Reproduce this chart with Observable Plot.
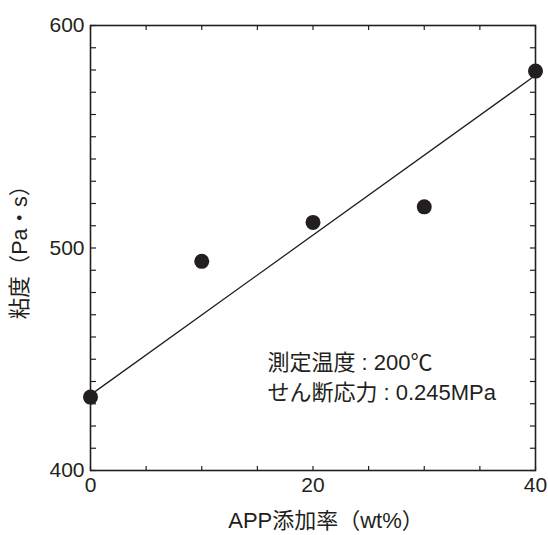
<!DOCTYPE html>
<html>
<head>
<meta charset="utf-8">
<script src="https://cdn.jsdelivr.net/npm/d3@7"></script>
<script src="https://cdn.jsdelivr.net/npm/@observablehq/plot@0.6"></script>
<style>
  html, body { margin: 0; padding: 0; background: #fff; }
  #chart svg { display: block; }
</style>
</head>
<body>
<div id="chart"></div>
<script>
// APP loading (wt%) and measured viscosity (Pa·s)
const appContent = [0, 10, 20, 30, 40];
const viscosity = [433, 494, 511.5, 518.5, 579.5];

// straight fitted line through the data
const fitX = [0, 40];
const fitY = [434, 577.6];

// axis ticks
const xMajorTicks = [0, 20, 40];
const xMinorTicks = [0, 5, 10, 15, 20, 25, 30, 35, 40];
const yMajorTicks = [400, 500, 600];
const yMinorTicks = [400, 410, 420, 430, 440, 450, 460, 470, 480, 490, 500, 510, 520, 530, 540, 550, 560, 570, 580, 590, 600];

// measurement conditions note
const noteLines = ["測定温度 : 200℃", "せん断応力 : 0.245MPa"];
const noteX = [15.9, 15.9];
const noteY = [448.5, 435];

const xLabel = "APP添加率（wt%）";
const yLabel = "粘度（Pa・s）";

const font = "'Liberation Sans', Arial, 'Noto Sans CJK JP', sans-serif";
const ink = "#231f20";

const points = appContent.map((x, i) => ({x, y: viscosity[i]}));
const fit = fitX.map((x, i) => ({x, y: fitY[i]}));
const notes = noteLines.map((t, i) => ({t, x: noteX[i], y: noteY[i]}));

const chart = Plot.plot({
  width: 548,
  height: 535,
  marginLeft: 90,
  marginRight: 13,
  marginTop: 25,
  marginBottom: 65,
  style: {fontFamily: font, color: ink, background: "#fff"},
  x: {domain: [0, 40]},
  y: {domain: [400, 600]},
  marks: [
    // inward ticks on all four sides
    Plot.axisY(yMinorTicks, {anchor: "left", tickSize: -6, text: null, label: null, stroke: ink, strokeWidth: 1.2}),
    Plot.axisY(yMinorTicks, {anchor: "right", tickSize: -6, text: null, label: null, stroke: ink, strokeWidth: 1.2}),
    Plot.axisX(xMinorTicks, {anchor: "bottom", tickSize: -4, text: null, label: null, stroke: ink, strokeWidth: 1.2}),
    Plot.axisX(xMinorTicks, {anchor: "top", tickSize: -4, text: null, label: null, stroke: ink, strokeWidth: 1.2}),
    // tick labels
    Plot.axisY(yMajorTicks, {anchor: "left", tickSize: 0, tickPadding: 6, fontSize: 21, fill: ink, label: null}),
    Plot.axisX(xMajorTicks, {anchor: "bottom", tickSize: 0, tickPadding: 7, fontSize: 21, fill: ink, label: null}),
    // axis titles
    Plot.text([xLabel], {frameAnchor: "bottom", textAnchor: "middle", lineAnchor: "middle", dx: 13, dy: 50, fontSize: 22, fill: ink}),
    Plot.text([yLabel], {frameAnchor: "left", textAnchor: "middle", lineAnchor: "middle", dx: -70, dy: -1, rotate: -90, fontSize: 21.5, fill: ink}),
    Plot.frame({stroke: ink, strokeWidth: 1.6}),
    Plot.line(fit, {x: "x", y: "y", stroke: ink, strokeWidth: 1.3}),
    Plot.dot(points, {x: "x", y: "y", r: 7.5, fill: ink, stroke: "none"}),
    Plot.text(notes, {x: "x", y: "y", text: "t", textAnchor: "start", fontSize: 22, fill: ink})
  ]
});

document.getElementById("chart").appendChild(chart);
</script>
</body>
</html>
